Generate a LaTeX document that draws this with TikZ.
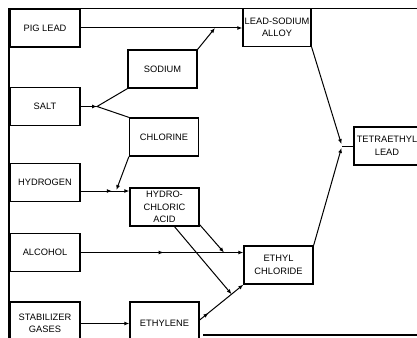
\documentclass[tikz,border=0pt]{standalone}
\usepackage{fontspec}
\setmainfont{Liberation Sans}
\usetikzlibrary{positioning,arrows.meta,calc,decorations.markings}

\tikzset{
  stage/.style={rectangle,draw,line width=1.3pt,fill=white,
    font=\fontsize{9.3}{12.5}\selectfont,align=center,inner sep=0pt,
    minimum width=69pt,minimum height=38pt},
  conn/.style={line width=1pt},
  flow/.style={conn,-{Latex[length=5pt,width=4pt]}},
  midflow/.style={decoration={markings,
      mark=at position #1 with {\arrow{Latex[length=5pt,width=4pt]}}},
    postaction={decorate}}
}

\begin{document}
\begin{tikzpicture}[x=1pt,y=-1pt]
\useasboundingbox (0,0) rectangle (417,337);
\clip (0,0) rectangle (417,337);
% sheet border
\draw[line width=1.4pt] (9,345) -- (9,8.5) -- (425,8.5);
\draw[line width=1.4pt] (203,335) -- (425,335);

% raw materials, left column
\node[stage,minimum width=70pt] (piglead) at (45,28) {PIG LEAD};
\node[stage,minimum width=70pt] (salt) at (45,106.5) {SALT};
\node[stage,minimum width=70pt] (hydrogen) at (45,182.5) {HYDROGEN};
\node[stage,minimum width=70pt] (alcohol) at (45,252.5) {ALCOHOL};
\node[stage,minimum width=70pt,minimum height=43pt] (stabilizer) at (45,323.5) {STABILIZER\\GASES};

% intermediates
\node[stage] (sodium) at (162.5,69) {SODIUM};
\node[stage] (chlorine) at (164,137) {CHLORINE};
\node[stage] (hcl) at (164.5,207) {HYDRO-\\CHLORIC\\ACID};
\node[stage,minimum height=43pt] (ethylene) at (164.5,323.5) {ETHYLENE};
\node[stage,minimum width=68pt] (alloy) at (277,27.5) {LEAD-SODIUM\\ALLOY};
\node[stage] (ethylcl) at (278.5,265) {ETHYL\\CHLORIDE};
\node[stage,minimum width=66pt] (tel) at (387,146) {TETRAETHYL\\LEAD};

% junctions
\coordinate (c1) at (215,28);
\coordinate (j1) at (97,106.5);
\coordinate (h1) at ([yshift=-8.5pt]hydrogen.east);
\coordinate (j2) at (116,191);
\coordinate (j3) at (224,252.5);
\coordinate (e1) at ([yshift=3.5pt]ethylene.east);
\coordinate (j4) at ($(e1)!0.73!(ethylcl.south west)$);
\coordinate (j5) at (342,146);

% connectors
\draw[flow] (piglead.east) -- (piglead.east -| alloy.west);
\draw[flow] (sodium.north east) -- (c1);
\draw[flow] (salt.east) -- (j1);
\draw[conn] (sodium.south west) -- (j1) -- (chlorine.north west);
\draw[flow,midflow=0.64] (h1) -- (h1 -| hcl.west);
\draw[flow,shorten >=1pt] (chlorine.south west) -- (j2);
\draw[flow,midflow=0.51] (alcohol.east) -- (alcohol.east -| ethylcl.west);
\draw[flow] ([yshift=2pt]hcl.south east) -- (j3);
\draw[flow] ([xshift=10pt]hcl.south) -- (j4);
\draw[flow] (stabilizer.east |- ethylene.east) -- (ethylene.west);
\draw[flow,midflow=0.2] (e1) -- (ethylcl.south west);
\draw[flow,shorten >=2pt] (alloy.south east) -- (j5);
\draw[flow,shorten >=2pt] (ethylcl.north east) -- (j5);
\draw[conn] (j5) -- (tel.west);
\end{tikzpicture}
\end{document}
